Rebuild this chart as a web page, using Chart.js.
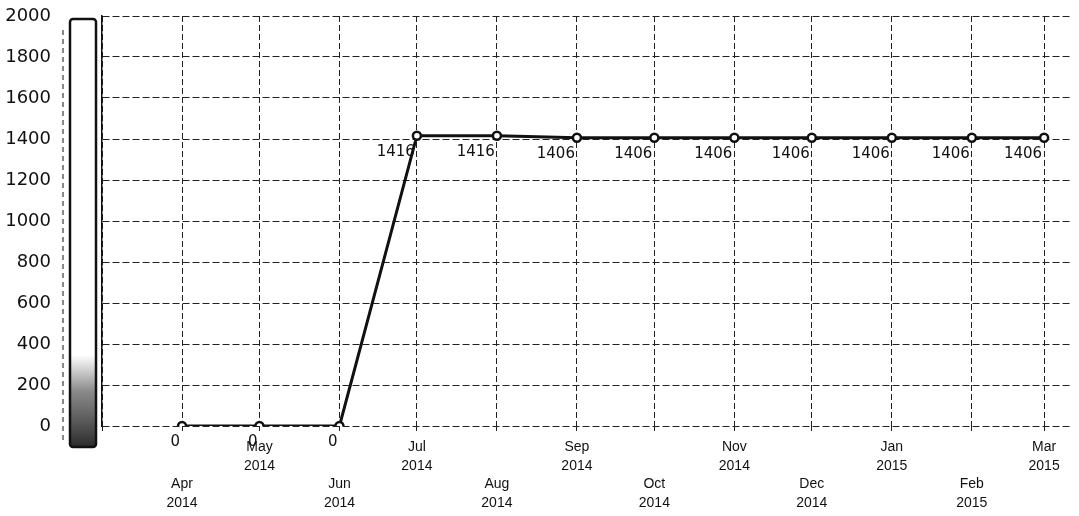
<!DOCTYPE html>
<html>
<head>
<meta charset="utf-8">
<script src="https://cdn.jsdelivr.net/npm/chart.js@4.4.1/dist/chart.umd.min.js"></script>
<style>
  html, body { margin: 0; padding: 0; background: #fff; }
  #wrap { width: 1079px; height: 516px; position: relative; }
</style>
</head>
<body>
<div id="wrap"><canvas id="grafico"></canvas></div>
<script>
// datos
const meses = ["2014-04", "2014-05", "2014-06", "2014-07", "2014-08", "2014-09",
               "2014-10", "2014-11", "2014-12", "2015-01", "2015-02", "2015-03"];
const nombresMes = ["Apr", "May", "Jun", "Jul", "Aug", "Sep", "Oct", "Nov", "Dec", "Jan", "Feb", "Mar"];
const valores = [0, 0, 0, 1416, 1416, 1406, 1406, 1406, 1406, 1406, 1406, 1406];
const ticksY = [0, 200, 400, 600, 800, 1000, 1200, 1400, 1600, 1800, 2000];

// dias desde el 1 de abril de 2014
const base = Date.UTC(2014, 3, 1);
function dias(ym) {
  const [a, m] = ym.split("-").map(Number);
  return (Date.UTC(a, m - 1, 1) - base) / 86400000;
}
const posX = meses.map(dias);
const inicio = dias("2014-03");

const puntos = posX.map((x, i) => ({ x: x, y: valores[i] }));

// barra lateral (como una barra de desplazamiento escaneada)
const barraLateral = {
  id: "barraLateral",
  beforeDraw(chart) {
    const ctx = chart.ctx;
    ctx.save();
    const grad = ctx.createLinearGradient(0, 355, 0, 447);
    grad.addColorStop(0, "rgba(40,40,40,0)");
    grad.addColorStop(0.4, "rgba(40,40,40,0.55)");
    grad.addColorStop(1, "rgba(20,20,20,0.9)");
    ctx.fillStyle = grad;
    ctx.fillRect(70, 355, 26, 92);
    ctx.strokeStyle = "#111";
    ctx.lineWidth = 2.5;
    ctx.beginPath();
    ctx.roundRect(70, 19, 26, 428, 3);
    ctx.stroke();
    ctx.lineWidth = 1;
    ctx.setLineDash([5, 4]);
    ctx.beginPath();
    ctx.moveTo(63, 30);
    ctx.lineTo(63, 440);
    ctx.stroke();
    ctx.restore();
  }
};

// etiquetas de valor debajo de cada punto
const etiquetasValor = {
  id: "etiquetasValor",
  afterDatasetsDraw(chart) {
    const ctx = chart.ctx;
    const meta = chart.getDatasetMeta(0);
    ctx.save();
    ctx.font = "15px 'DejaVu Sans'";
    ctx.fillStyle = "#111";
    ctx.textAlign = "right";
    ctx.textBaseline = "middle";
    meta.data.forEach((p, i) => {
      ctx.fillText(String(valores[i]), p.x - 2, p.y + 16);
    });
    ctx.restore();
  }
};

new Chart(document.getElementById("grafico"), {
  type: "line",
  data: {
    datasets: [{
      data: puntos,
      borderColor: "#111",
      borderWidth: 3,
      pointRadius: 4,
      pointBackgroundColor: "#fff",
      pointBorderColor: "#111",
      pointBorderWidth: 2.5,
      tension: 0
    }]
  },
  options: {
    responsive: true,
    maintainAspectRatio: false,
    animation: false,
    layout: { padding: { top: 16, right: 0, left: 0, bottom: 0 } },
    plugins: {
      legend: { display: false },
      tooltip: { enabled: false }
    },
    scales: {
      x: {
        type: "linear",
        min: inicio,
        max: 345,
        afterBuildTicks(scale) {
          scale.ticks = [inicio].concat(posX).map(v => ({ value: v }));
        },
        grid: {
          color: "#222",
          lineWidth: 1,
          tickLength: 8,
          tickColor: "#222",
          tickBorderDash: [5, 3]
        },
        border: { display: false, dash: [6, 3] },
        ticks: {
          autoSkip: false,
          maxRotation: 0,
          padding: 4,
          color: "#111",
          font: { family: "'Liberation Sans', Arial", size: 14, lineHeight: "18.5px" },
          callback(v) {
            const i = posX.indexOf(v);
            if (i < 0) return "";
            const anio = meses[i].slice(0, 4);
            return i % 2 === 1 ? [nombresMes[i], anio] : ["", "", nombresMes[i], anio];
          }
        }
      },
      y: {
        min: 0,
        max: 2000,
        afterBuildTicks(scale) {
          scale.ticks = ticksY.map(v => ({ value: v }));
        },
        afterFit(scale) { scale.width = 102; },
        grid: {
          color: "#222",
          lineWidth: 1,
          drawTicks: true,
          tickLength: 50,
          tickColor: "rgba(0,0,0,0)"
        },
        border: { display: true, color: "#111", width: 1.5, dash: [7, 3] },
        ticks: {
          padding: 1,
          color: "#111",
          font: { family: "'DejaVu Sans'", size: 18 },
          callback: v => String(v)
        }
      }
    }
  },
  plugins: [barraLateral, etiquetasValor]
});
</script>
</body>
</html>
